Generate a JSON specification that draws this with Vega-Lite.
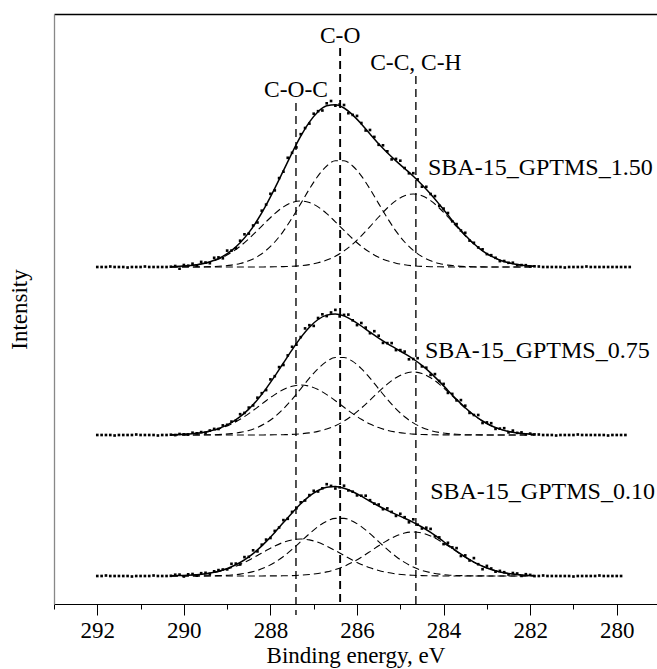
{
  "$schema": "https://vega.github.io/schema/vega-lite/v6.json",
  "width": 603,
  "height": 590,
  "autosize": {"type": "none"},
  "padding": {"left": 54, "top": 14, "right": 0, "bottom": 65},
  "background": "white",
  "config": {"font": "'Liberation Serif', 'Times New Roman', serif", "view": {"stroke": null},
             "axis": {"grid": false, "labelFont": "'Liberation Serif', 'Times New Roman', serif", "titleFont": "'Liberation Serif', 'Times New Roman', serif"},
             "text": {"font": "'Liberation Serif', 'Times New Roman', serif"}},
  "datasets": {
    "fit": [
      {"E":290.3,"T1":337.3,"T2":337,"T3":337,"TF":337.3,"M1":169.3,"M2":169,"M3":169,"MF":169.3,"B1":28.2,"B2":28,"B3":28,"BF":28.2},
      {"E":290.1,"T1":337.6,"T2":337,"T3":337,"TF":337.7,"M1":169.5,"M2":169,"M3":169,"MF":169.5,"B1":28.4,"B2":28,"B3":28,"BF":28.4},
      {"E":289.9,"T1":338.2,"T2":337,"T3":337,"TF":338.3,"M1":169.9,"M2":169,"M3":169,"MF":170.0,"B1":28.7,"B2":28,"B3":28,"BF":28.7},
      {"E":289.7,"T1":339.2,"T2":337.1,"T3":337,"TF":339.3,"M1":170.7,"M2":169.1,"M3":169,"MF":170.7,"B1":29.2,"B2":28.1,"B3":28,"BF":29.3},
      {"E":289.5,"T1":340.8,"T2":337.2,"T3":337,"TF":341.0,"M1":171.9,"M2":169.2,"M3":169,"MF":172.0,"B1":30.1,"B2":28.1,"B3":28,"BF":30.2},
      {"E":289.3,"T1":343.2,"T2":337.5,"T3":337,"TF":343.7,"M1":173.7,"M2":169.3,"M3":169,"MF":174.1,"B1":31.5,"B2":28.3,"B3":28,"BF":31.7},
      {"E":289.1,"T1":346.7,"T2":338.0,"T3":337,"TF":347.7,"M1":176.4,"M2":169.7,"M3":169,"MF":177.1,"B1":33.5,"B2":28.5,"B3":28,"BF":34.0},
      {"E":288.9,"T1":351.6,"T2":338.9,"T3":337,"TF":353.4,"M1":180.0,"M2":170.4,"M3":169,"MF":181.4,"B1":36.2,"B2":29.0,"B3":28,"BF":37.2},
      {"E":288.7,"T1":357.7,"T2":340.5,"T3":337,"TF":361.3,"M1":184.7,"M2":171.6,"M3":169,"MF":187.3,"B1":39.6,"B2":29.9,"B3":28,"BF":41.5},
      {"E":288.5,"T1":365.2,"T2":343.2,"T3":337,"TF":371.4,"M1":190.4,"M2":173.5,"M3":169,"MF":194.9,"B1":43.8,"B2":31.4,"B3":28,"BF":47.2},
      {"E":288.3,"T1":373.6,"T2":347.4,"T3":337,"TF":384.0,"M1":196.7,"M2":176.6,"M3":169,"MF":204.3,"B1":48.5,"B2":33.6,"B3":28,"BF":54.1},
      {"E":288.1,"T1":382.2,"T2":353.6,"T3":337.1,"TF":398.9,"M1":203.3,"M2":181.1,"M3":169.1,"MF":215.4,"B1":53.4,"B2":37.0,"B3":28.1,"BF":62.4},
      {"E":287.9,"T1":390.4,"T2":362.0,"T3":337.2,"TF":415.6,"M1":209.4,"M2":187.2,"M3":169.2,"MF":227.8,"B1":57.9,"B2":41.6,"B3":28.1,"BF":71.6},
      {"E":287.7,"T1":397.1,"T2":372.9,"T3":337.4,"TF":433.3,"M1":214.5,"M2":195.2,"M3":169.3,"MF":241.0,"B1":61.7,"B2":47.5,"B3":28.2,"BF":81.4},
      {"E":287.5,"T1":401.5,"T2":386.0,"T3":337.7,"TF":451.2,"M1":217.8,"M2":204.7,"M3":169.6,"MF":254.2,"B1":64.1,"B2":54.6,"B3":28.4,"BF":91.1},
      {"E":287.3,"T1":403.0,"T2":400.4,"T3":338.3,"TF":467.8,"M1":219.0,"M2":215.2,"M3":170.2,"MF":266.4,"B1":65.0,"B2":62.4,"B3":28.8,"BF":100.2},
      {"E":287.1,"T1":401.5,"T2":415.0,"T3":339.4,"TF":481.9,"M1":217.8,"M2":225.9,"M3":171.1,"MF":276.8,"B1":64.1,"B2":70.3,"B3":29.5,"BF":107.9},
      {"E":286.9,"T1":397.1,"T2":428.1,"T3":341.2,"TF":492.3,"M1":214.5,"M2":235.4,"M3":172.6,"MF":284.5,"B1":61.7,"B2":77.4,"B3":30.5,"BF":113.5},
      {"E":286.7,"T1":390.4,"T2":438.0,"T3":343.9,"TF":498.2,"M1":209.4,"M2":242.6,"M3":174.9,"MF":288.9,"B1":57.9,"B2":82.7,"B3":32.1,"BF":116.8},
      {"E":286.5,"T1":382.2,"T2":443.3,"T3":347.8,"TF":499.3,"M1":203.3,"M2":246.5,"M3":178.3,"MF":290.1,"B1":53.4,"B2":85.6,"B3":34.5,"BF":117.5},
      {"E":286.3,"T1":373.6,"T2":443.3,"T3":353.1,"TF":496.0,"M1":196.7,"M2":246.5,"M3":182.9,"MF":288.1,"B1":48.5,"B2":85.6,"B3":37.7,"BF":115.8},
      {"E":286.1,"T1":365.2,"T2":438.0,"T3":359.9,"TF":489.1,"M1":190.4,"M2":242.6,"M3":188.8,"MF":283.7,"B1":43.8,"B2":82.7,"B3":41.8,"BF":112.3},
      {"E":285.9,"T1":357.7,"T2":428.1,"T3":368.2,"TF":480.0,"M1":184.7,"M2":235.4,"M3":195.9,"MF":278.0,"B1":39.6,"B2":77.4,"B3":46.8,"BF":107.8},
      {"E":285.7,"T1":351.6,"T2":415.0,"T3":377.4,"TF":470.0,"M1":180.0,"M2":225.9,"M3":203.9,"MF":271.8,"B1":36.2,"B2":70.3,"B3":52.4,"BF":102.8},
      {"E":285.5,"T1":346.7,"T2":400.4,"T3":387.0,"TF":460.2,"M1":176.4,"M2":215.2,"M3":212.2,"MF":265.8,"B1":33.5,"B2":62.4,"B3":58.2,"BF":98.0},
      {"E":285.3,"T1":343.2,"T2":386.0,"T3":396.0,"TF":451.2,"M1":173.7,"M2":204.7,"M3":219.9,"MF":260.4,"B1":31.5,"B2":54.6,"B3":63.6,"BF":93.6},
      {"E":285.1,"T1":340.8,"T2":372.9,"T3":403.4,"TF":443.1,"M1":171.9,"M2":195.2,"M3":226.3,"MF":255.4,"B1":30.1,"B2":47.5,"B3":68.0,"BF":89.6},
      {"E":284.9,"T1":339.2,"T2":362.0,"T3":408.3,"TF":435.5,"M1":170.7,"M2":187.2,"M3":230.5,"MF":250.4,"B1":29.2,"B2":41.6,"B3":71.0,"BF":85.8},
      {"E":284.7,"T1":338.2,"T2":353.6,"T3":410.0,"TF":427.8,"M1":169.9,"M2":181.1,"M3":232.0,"MF":245.0,"B1":28.7,"B2":37.0,"B3":72.0,"BF":81.7},
      {"E":284.5,"T1":337.6,"T2":347.4,"T3":408.3,"TF":419.3,"M1":169.5,"M2":176.6,"M3":230.5,"MF":238.6,"B1":28.4,"B2":33.6,"B3":71.0,"BF":77.0},
      {"E":284.3,"T1":337.3,"T2":343.2,"T3":403.4,"TF":410.0,"M1":169.3,"M2":173.5,"M3":226.3,"MF":231.1,"B1":28.2,"B2":31.4,"B3":68.0,"BF":71.6},
      {"E":284.1,"T1":337.2,"T2":340.5,"T3":396.0,"TF":399.7,"M1":169.1,"M2":171.6,"M3":219.9,"MF":222.6,"B1":28.1,"B2":29.9,"B3":63.6,"BF":65.6},
      {"E":283.9,"T1":337.1,"T2":338.9,"T3":387.0,"TF":389.0,"M1":169.1,"M2":170.4,"M3":212.2,"MF":213.6,"B1":28,"B2":29.0,"B3":58.2,"BF":59.2},
      {"E":283.7,"T1":337,"T2":338.0,"T3":377.4,"TF":378.4,"M1":169,"M2":169.7,"M3":203.9,"MF":204.6,"B1":28,"B2":28.5,"B3":52.4,"BF":52.9},
      {"E":283.5,"T1":337,"T2":337.5,"T3":368.2,"TF":368.7,"M1":169,"M2":169.3,"M3":195.9,"MF":196.3,"B1":28,"B2":28.3,"B3":46.8,"BF":47.1},
      {"E":283.3,"T1":337,"T2":337.2,"T3":359.9,"TF":360.2,"M1":169,"M2":169.2,"M3":188.8,"MF":189.0,"B1":28,"B2":28.1,"B3":41.8,"BF":41.9},
      {"E":283.1,"T1":337,"T2":337.1,"T3":353.1,"TF":353.2,"M1":169,"M2":169.1,"M3":182.9,"MF":183.0,"B1":28,"B2":28.1,"B3":37.7,"BF":37.8},
      {"E":282.9,"T1":337,"T2":337,"T3":347.8,"TF":347.8,"M1":169,"M2":169,"M3":178.3,"MF":178.3,"B1":28,"B2":28,"B3":34.5,"BF":34.5},
      {"E":282.7,"T1":337,"T2":337,"T3":343.9,"TF":343.9,"M1":169,"M2":169,"M3":174.9,"MF":174.9,"B1":28,"B2":28,"B3":32.1,"BF":32.1},
      {"E":282.5,"T1":337,"T2":337,"T3":341.2,"TF":341.2,"M1":169,"M2":169,"M3":172.6,"MF":172.6,"B1":28,"B2":28,"B3":30.5,"BF":30.5},
      {"E":282.3,"T1":337,"T2":337,"T3":339.4,"TF":339.4,"M1":169,"M2":169,"M3":171.1,"MF":171.1,"B1":28,"B2":28,"B3":29.5,"BF":29.5},
      {"E":282.1,"T1":337,"T2":337,"T3":338.3,"TF":338.3,"M1":169,"M2":169,"M3":170.2,"MF":170.2,"B1":28,"B2":28,"B3":28.8,"BF":28.8},
      {"E":281.9,"T1":337,"T2":337,"T3":337.7,"TF":337.7,"M1":169,"M2":169,"M3":169.6,"MF":169.6,"B1":28,"B2":28,"B3":28.4,"BF":28.4}
    ],
    "pts": [
      {"E":292.0,"T":337,"M":169,"B":28},{"E":291.9,"T":337,"M":169,"B":28},{"E":291.8,"T":337,"M":169,"B":28.5},
      {"E":291.7,"T":337.5,"M":169,"B":28},{"E":291.6,"T":337,"M":168.5,"B":28},{"E":291.5,"T":337,"M":169,"B":28},
      {"E":291.4,"T":337,"M":169,"B":28},{"E":291.3,"T":336.5,"M":169,"B":28},{"E":291.2,"T":337,"M":169,"B":27.5},
      {"E":291.1,"T":337,"M":169.5,"B":28},{"E":291.0,"T":337,"M":169,"B":28},{"E":290.9,"T":337.5,"M":169,"B":28},
      {"E":290.8,"T":337,"M":169,"B":28},{"E":290.7,"T":337,"M":169,"B":28.5},{"E":290.6,"T":337,"M":168.5,"B":28},
      {"E":290.5,"T":337,"M":169,"B":28},{"E":290.4,"T":337,"M":169,"B":28},
      {"E":290.3,"T":337.3,"M":169.3,"B":28.2},{"E":290.2,"T":338.0,"M":168.9,"B":29.3},{"E":290.1,"T":335.3,"M":170.0,"B":29.4},
      {"E":290.0,"T":339.0,"M":169.7,"B":27.5},{"E":289.9,"T":338.3,"M":169.5,"B":29.7},{"E":289.8,"T":340.3,"M":171.3,"B":30.0},
      {"E":289.7,"T":338.3,"M":170.7,"B":28.3},{"E":289.6,"T":342.1,"M":171.9,"B":30.8},{"E":289.5,"T":341.5,"M":171.0,"B":31.2},
      {"E":289.4,"T":340.8,"M":173.5,"B":30.0},{"E":289.3,"T":346.2,"M":175.1,"B":32.7},{"E":289.2,"T":346.6,"M":175.0,"B":33.9},
      {"E":289.1,"T":345.7,"M":178.6,"B":34.5},{"E":289.0,"T":353.4,"M":179.2,"B":34.6},{"E":288.9,"T":353.4,"M":182.4,"B":40.2},
      {"E":288.8,"T":355.7,"M":183.3,"B":40.4},{"E":288.7,"T":363.3,"M":189.8,"B":39.5},{"E":288.6,"T":369.7,"M":191.1,"B":46.9},
      {"E":288.5,"T":370.4,"M":196.4,"B":47.2},{"E":288.4,"T":378.5,"M":198.6,"B":53.7},{"E":288.3,"T":381.5,"M":206.3,"B":52.6},
      {"E":288.2,"T":393.3,"M":210.8,"B":59.3},{"E":288.1,"T":399.4,"M":213.9,"B":64.4},{"E":288.0,"T":410.2,"M":224.6,"B":66.0},
      {"E":287.9,"T":413.6,"M":227.8,"B":73.1},{"E":287.8,"T":425.9,"M":236.9,"B":76.5},{"E":287.7,"T":432.3,"M":239.0,"B":83.9},
      {"E":287.6,"T":446.2,"M":248.6,"B":85.2},{"E":287.5,"T":451.2,"M":257.2,"B":92.1},{"E":287.4,"T":456.6,"M":259.3,"B":95.7},
      {"E":287.3,"T":469.8,"M":266.9,"B":101.7},{"E":287.2,"T":476.0,"M":275.6,"B":103.5},{"E":287.1,"T":480.4,"M":278.8,"B":108.9},
      {"E":287.0,"T":490.3,"M":278.1,"B":113.2},{"E":286.9,"T":492.8,"M":286.0,"B":112.5},{"E":286.8,"T":493.5,"M":289.7,"B":115.7},
      {"E":286.7,"T":500.7,"M":287.9,"B":119.8},{"E":286.6,"T":503.0,"M":291.5,"B":118.1},{"E":286.5,"T":498.3,"M":294.1,"B":115.5},
      {"E":286.4,"T":499.5,"M":287.6,"B":116.7},{"E":286.3,"T":499.0,"M":289.1,"B":118.3},{"E":286.2,"T":490.8,"M":289.4,"B":113.6},
      {"E":286.1,"T":489.1,"M":283.7,"B":112.3},{"E":286.0,"T":488.1,"M":278.9,"B":108.6},{"E":285.9,"T":481.0,"M":281.0,"B":108.3},
      {"E":285.8,"T":473.5,"M":276.4,"B":108.3},{"E":285.7,"T":474.0,"M":270.8,"B":103.8},{"E":285.6,"T":467.1,"M":272.8,"B":100.4},
      {"E":285.5,"T":459.2,"M":268.3,"B":99.5},{"E":285.4,"T":458.7,"M":261.1,"B":94.8},{"E":285.3,"T":452.7,"M":260.9,"B":95.6},
      {"E":285.2,"T":444.6,"M":260.9,"B":92.1},{"E":285.1,"T":445.1,"M":253.9,"B":88.1},{"E":285.0,"T":443.3,"M":253.9,"B":90.2},
      {"E":284.9,"T":436.0,"M":252.4,"B":86.8},{"E":284.8,"T":430.7,"M":244.7,"B":81.7},{"E":284.7,"T":430.8,"M":245.0,"B":84.7},
      {"E":284.6,"T":424.6,"M":245.8,"B":79.3},{"E":284.5,"T":417.3,"M":237.6,"B":75.5},{"E":284.4,"T":417.2,"M":236.3,"B":76.3},
      {"E":284.3,"T":410.0,"M":229.1,"B":75.1},{"E":284.2,"T":407.9,"M":229.9,"B":67.6},{"E":284.1,"T":398.2,"M":223.1,"B":66.6},
      {"E":284.0,"T":395.4,"M":220.1,"B":59.9},{"E":283.9,"T":391.0,"M":211.1,"B":61.2},{"E":283.8,"T":382.7,"M":210.1,"B":56.6},
      {"E":283.7,"T":379.9,"M":203.6,"B":55.9},{"E":283.6,"T":373.5,"M":203.9,"B":48.0},{"E":283.5,"T":371.2,"M":198.3,"B":48.6},
      {"E":283.4,"T":363.4,"M":191.1,"B":43.5},{"E":283.3,"T":361.2,"M":189.0,"B":45.9},{"E":283.2,"T":356.6,"M":189.0,"B":39.8},
      {"E":283.1,"T":354.7,"M":181.0,"B":34.8},{"E":283.0,"T":349.9,"M":181.6,"B":38.1},{"E":282.9,"T":348.8,"M":180.8,"B":35.5},
      {"E":282.8,"T":346.2,"M":175.1,"B":32.3},{"E":282.7,"T":342.9,"M":175.4,"B":33.1},{"E":282.6,"T":343.0,"M":175.8,"B":31.8},
      {"E":282.5,"T":341.2,"M":171.6,"B":29.5},{"E":282.4,"T":341.3,"M":173.4,"B":31.0},{"E":282.3,"T":338.9,"M":171.1,"B":30.5},
      {"E":282.2,"T":338.9,"M":171.6,"B":28.1},{"E":282.1,"T":338.8,"M":169.7,"B":29.8},{"E":282.0,"T":337.5,"M":170.4,"B":29.1},
      {"E":281.9,"T":337.7,"M":169.6,"B":27.9},
      {"E":281.8,"T":337.5,"M":169.5,"B":28},{"E":281.7,"T":337,"M":169,"B":28.5},{"E":281.6,"T":337,"M":169,"B":28},
      {"E":281.5,"T":337,"M":169,"B":28},{"E":281.4,"T":337,"M":168.5,"B":28},{"E":281.3,"T":337,"M":169,"B":28},
      {"E":281.2,"T":336.5,"M":169,"B":28},{"E":281.1,"T":337,"M":169,"B":28},{"E":281.0,"T":337,"M":169,"B":27.5},
      {"E":280.9,"T":337,"M":169.5,"B":28},{"E":280.8,"T":337,"M":169,"B":28},{"E":280.7,"T":337.5,"M":169,"B":28},
      {"E":280.6,"T":337,"M":169,"B":28},{"E":280.5,"T":337,"M":169,"B":28},{"E":280.4,"T":337,"M":169,"B":28.5},
      {"E":280.3,"T":337,"M":169,"B":28},{"E":280.2,"T":337,"M":168.5,"B":28},{"E":280.1,"T":337,"M":169,"B":28},
      {"E":280.0,"T":337,"M":169,"B":28},{"E":279.9,"T":337,"M":169,"B":28},{"E":279.8,"T":337,"M":169},
      {"E":279.7,"T":337}
    ],
    "refs": [
      {"E":287.41,"top":501,"bottom":-11,"name":"C-O-C","ty":507.3},
      {"E":286.39,"top":556,"bottom":0,"name":"C-O","ty":561.3},
      {"E":284.64,"top":528,"bottom":0,"name":"C-C, C-H","ty":534}
    ],
    "samples": [
      {"E":284.36,"y":429,"name":"SBA-15_GPTMS_1.50"},
      {"E":284.43,"y":246,"name":"SBA-15_GPTMS_0.75"},
      {"E":284.31,"y":105,"name":"SBA-15_GPTMS_0.10"}
    ]
  },
  "layer": [
    {
      "data": {"name": "fit"},
      "transform": [{"fold": ["T1","T2","T3","M1","M2","M3","B1","B2","B3"], "as": ["key","value"]}],
      "mark": {"type": "line", "color": "black", "strokeWidth": 1.1, "strokeDash": [7,4], "interpolate": "monotone"},
      "encoding": {
        "x": {"field": "E", "type": "quantitative",
              "scale": {"domain": [279.07, 293], "reverse": true, "nice": false, "zero": false},
              "axis": {"orient": "bottom", "values": [292,290,288,286,284,282,280], "format": "d",
                       "tickSize": 11, "tickColor": "black", "tickWidth": 1, "domainColor": "black", "domainWidth": 1.2,
                       "labelFontSize": 23, "labelColor": "black", "labelBaseline": "alphabetic", "labelPadding": 22,
                       "labelFlush": false, "labelOverlap": false,
                       "title": "Binding energy, eV", "titleFontSize": 23, "titleFontWeight": "normal", "titleColor": "black",
                       "titleY": 58, "titleBaseline": "alphabetic"}},
        "y": {"field": "value", "type": "quantitative",
              "scale": {"domain": [0, 590], "nice": false, "zero": false},
              "axis": {"orient": "left", "title": "Intensity", "ticks": false, "labels": false,
                       "domainColor": "#888", "domainWidth": 1.3,
                       "titleFontSize": 23, "titleFontWeight": "normal", "titleColor": "black",
                       "titleX": -35, "titleY": 295, "titleAngle": -90, "titleBaseline": "middle", "titleAlign": "center"}},
        "detail": {"field": "key"}
      }
    },
    {
      "data": {"name": "fit"},
      "transform": [{"fold": ["TF","MF","BF"], "as": ["key","value"]}],
      "mark": {"type": "line", "color": "black", "strokeWidth": 1.5, "interpolate": "monotone"},
      "encoding": {
        "x": {"field": "E", "type": "quantitative",
              "scale": {"domain": [279.07, 293], "reverse": true, "nice": false, "zero": false},
              "axis": {"orient": "bottom", "values": [293,291,289,287,285,283,281], "tickSize": 5, "tickColor": "black",
                       "labels": false, "domain": false, "title": null}},
        "y": {"field": "value", "type": "quantitative"},
        "detail": {"field": "key"}
      }
    },
    {
      "data": {"name": "pts"},
      "transform": [{"fold": ["T","M","B"], "as": ["key","value"]}],
      "mark": {"type": "square", "color": "black", "filled": true, "size": 7, "opacity": 1},
      "encoding": {
        "x": {"field": "E", "type": "quantitative",
              "scale": {"domain": [279.07, 293], "reverse": true, "nice": false, "zero": false},
              "axis": {"orient": "top", "ticks": false, "labels": false, "domainColor": "black", "domainWidth": 1.3, "title": null}},
        "y": {"field": "value", "type": "quantitative"}
      }
    },
    {
      "data": {"name": "refs"},
      "mark": {"type": "rule", "color": "black", "strokeDash": [8,5]},
      "encoding": {
        "x": {"field": "E", "type": "quantitative",
              "scale": {"domain": [279.07, 293], "reverse": true, "nice": false, "zero": false}, "axis": null},
        "y": {"field": "top", "type": "quantitative"},
        "y2": {"field": "bottom"},
        "strokeWidth": {"condition": {"test": "datum.name === 'C-O'", "value": 1.9}, "value": 1.35}
      }
    },
    {
      "data": {"name": "refs"},
      "mark": {"type": "text", "color": "black", "fontSize": 23.5, "baseline": "alphabetic", "align": "center"},
      "encoding": {
        "x": {"field": "E", "type": "quantitative",
              "scale": {"domain": [279.07, 293], "reverse": true, "nice": false, "zero": false}, "axis": null},
        "y": {"field": "ty", "type": "quantitative"},
        "text": {"field": "name"}
      }
    },
    {
      "data": {"name": "samples"},
      "mark": {"type": "text", "color": "black", "fontSize": 24, "baseline": "alphabetic", "align": "left"},
      "encoding": {
        "x": {"field": "E", "type": "quantitative",
              "scale": {"domain": [279.07, 293], "reverse": true, "nice": false, "zero": false}, "axis": null},
        "y": {"field": "y", "type": "quantitative"},
        "text": {"field": "name"}
      }
    }
  ],
  "resolve": {"axis": {"x": "independent"}}
}
